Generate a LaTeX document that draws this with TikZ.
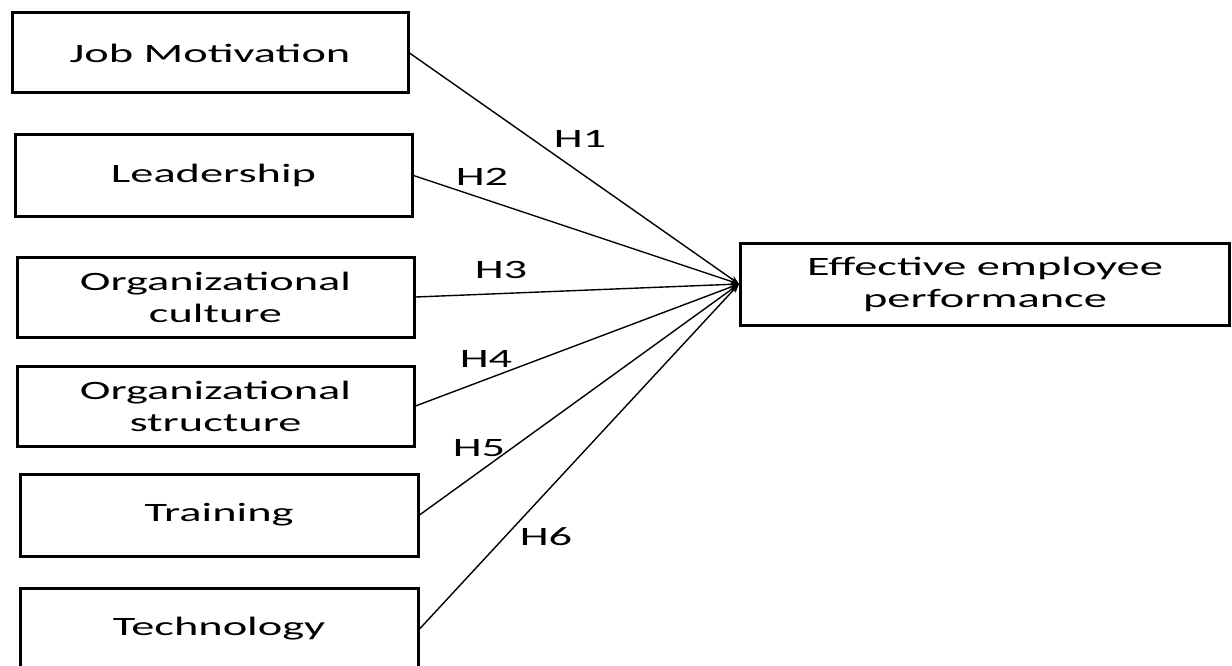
\documentclass[tikz,border=0pt]{standalone}
\usepackage{fontspec}
\setmainfont{Carlito}[FakeStretch=1.75]
\usetikzlibrary{arrows.meta}
\tikzset{
  box/.style={draw, line width=3pt, inner sep=0pt, align=center,
    font=\fontsize{26.5}{32}\selectfont},
  conn/.style={line width=1.4pt, -{Stealth[length=9pt,width=7pt]}},
  hlabel/.style={inner sep=0pt, font=\fontsize{26.5}{32}\selectfont}
}
\begin{document}
\begin{tikzpicture}[x=1pt,y=-1pt]
\useasboundingbox (0,0) rectangle (1232,666);
\node[box, minimum width=396pt, minimum height=80pt] (job) at (210,53) {Job Motivation};
\node[box, minimum width=397pt, minimum height=81pt] (lead) at (213.5,175.5) {Leadership};
\node[box, minimum width=397pt, minimum height=80pt] (cult) at (215.5,297) {Organizational\\culture};
\node[box, minimum width=397pt, minimum height=80pt] (struc) at (215.5,406) {Organizational\\structure};
\node[box, minimum width=398pt, minimum height=82pt] (train) at (219,515) {Training};
\node[box, minimum width=398pt, minimum height=82pt] (tech) at (219,629) {Technology};
\node[box, minimum width=489pt, minimum height=82pt] (eff) at (985,284) {Effective employee\\performance};
\draw[conn] (job.east) -- (eff.west);
\draw[conn] (lead.east) -- (eff.west);
\draw[conn] (cult.east) -- (eff.west);
\draw[conn] (struc.east) -- (eff.west);
\draw[conn] (train.east) -- (eff.west);
\draw[conn] (tech.east) -- (eff.west);
\node[hlabel] (h1) at (580,139) {H1};
\node[hlabel] (h2) at (482,177) {H2};
\node[hlabel] (h3) at (501,270) {H3};
\node[hlabel] (h4) at (486,359) {H4};
\node[hlabel] (h5) at (479,448) {H5};
\node[hlabel] (h6) at (546,537) {H6};
\end{tikzpicture}
\end{document}
